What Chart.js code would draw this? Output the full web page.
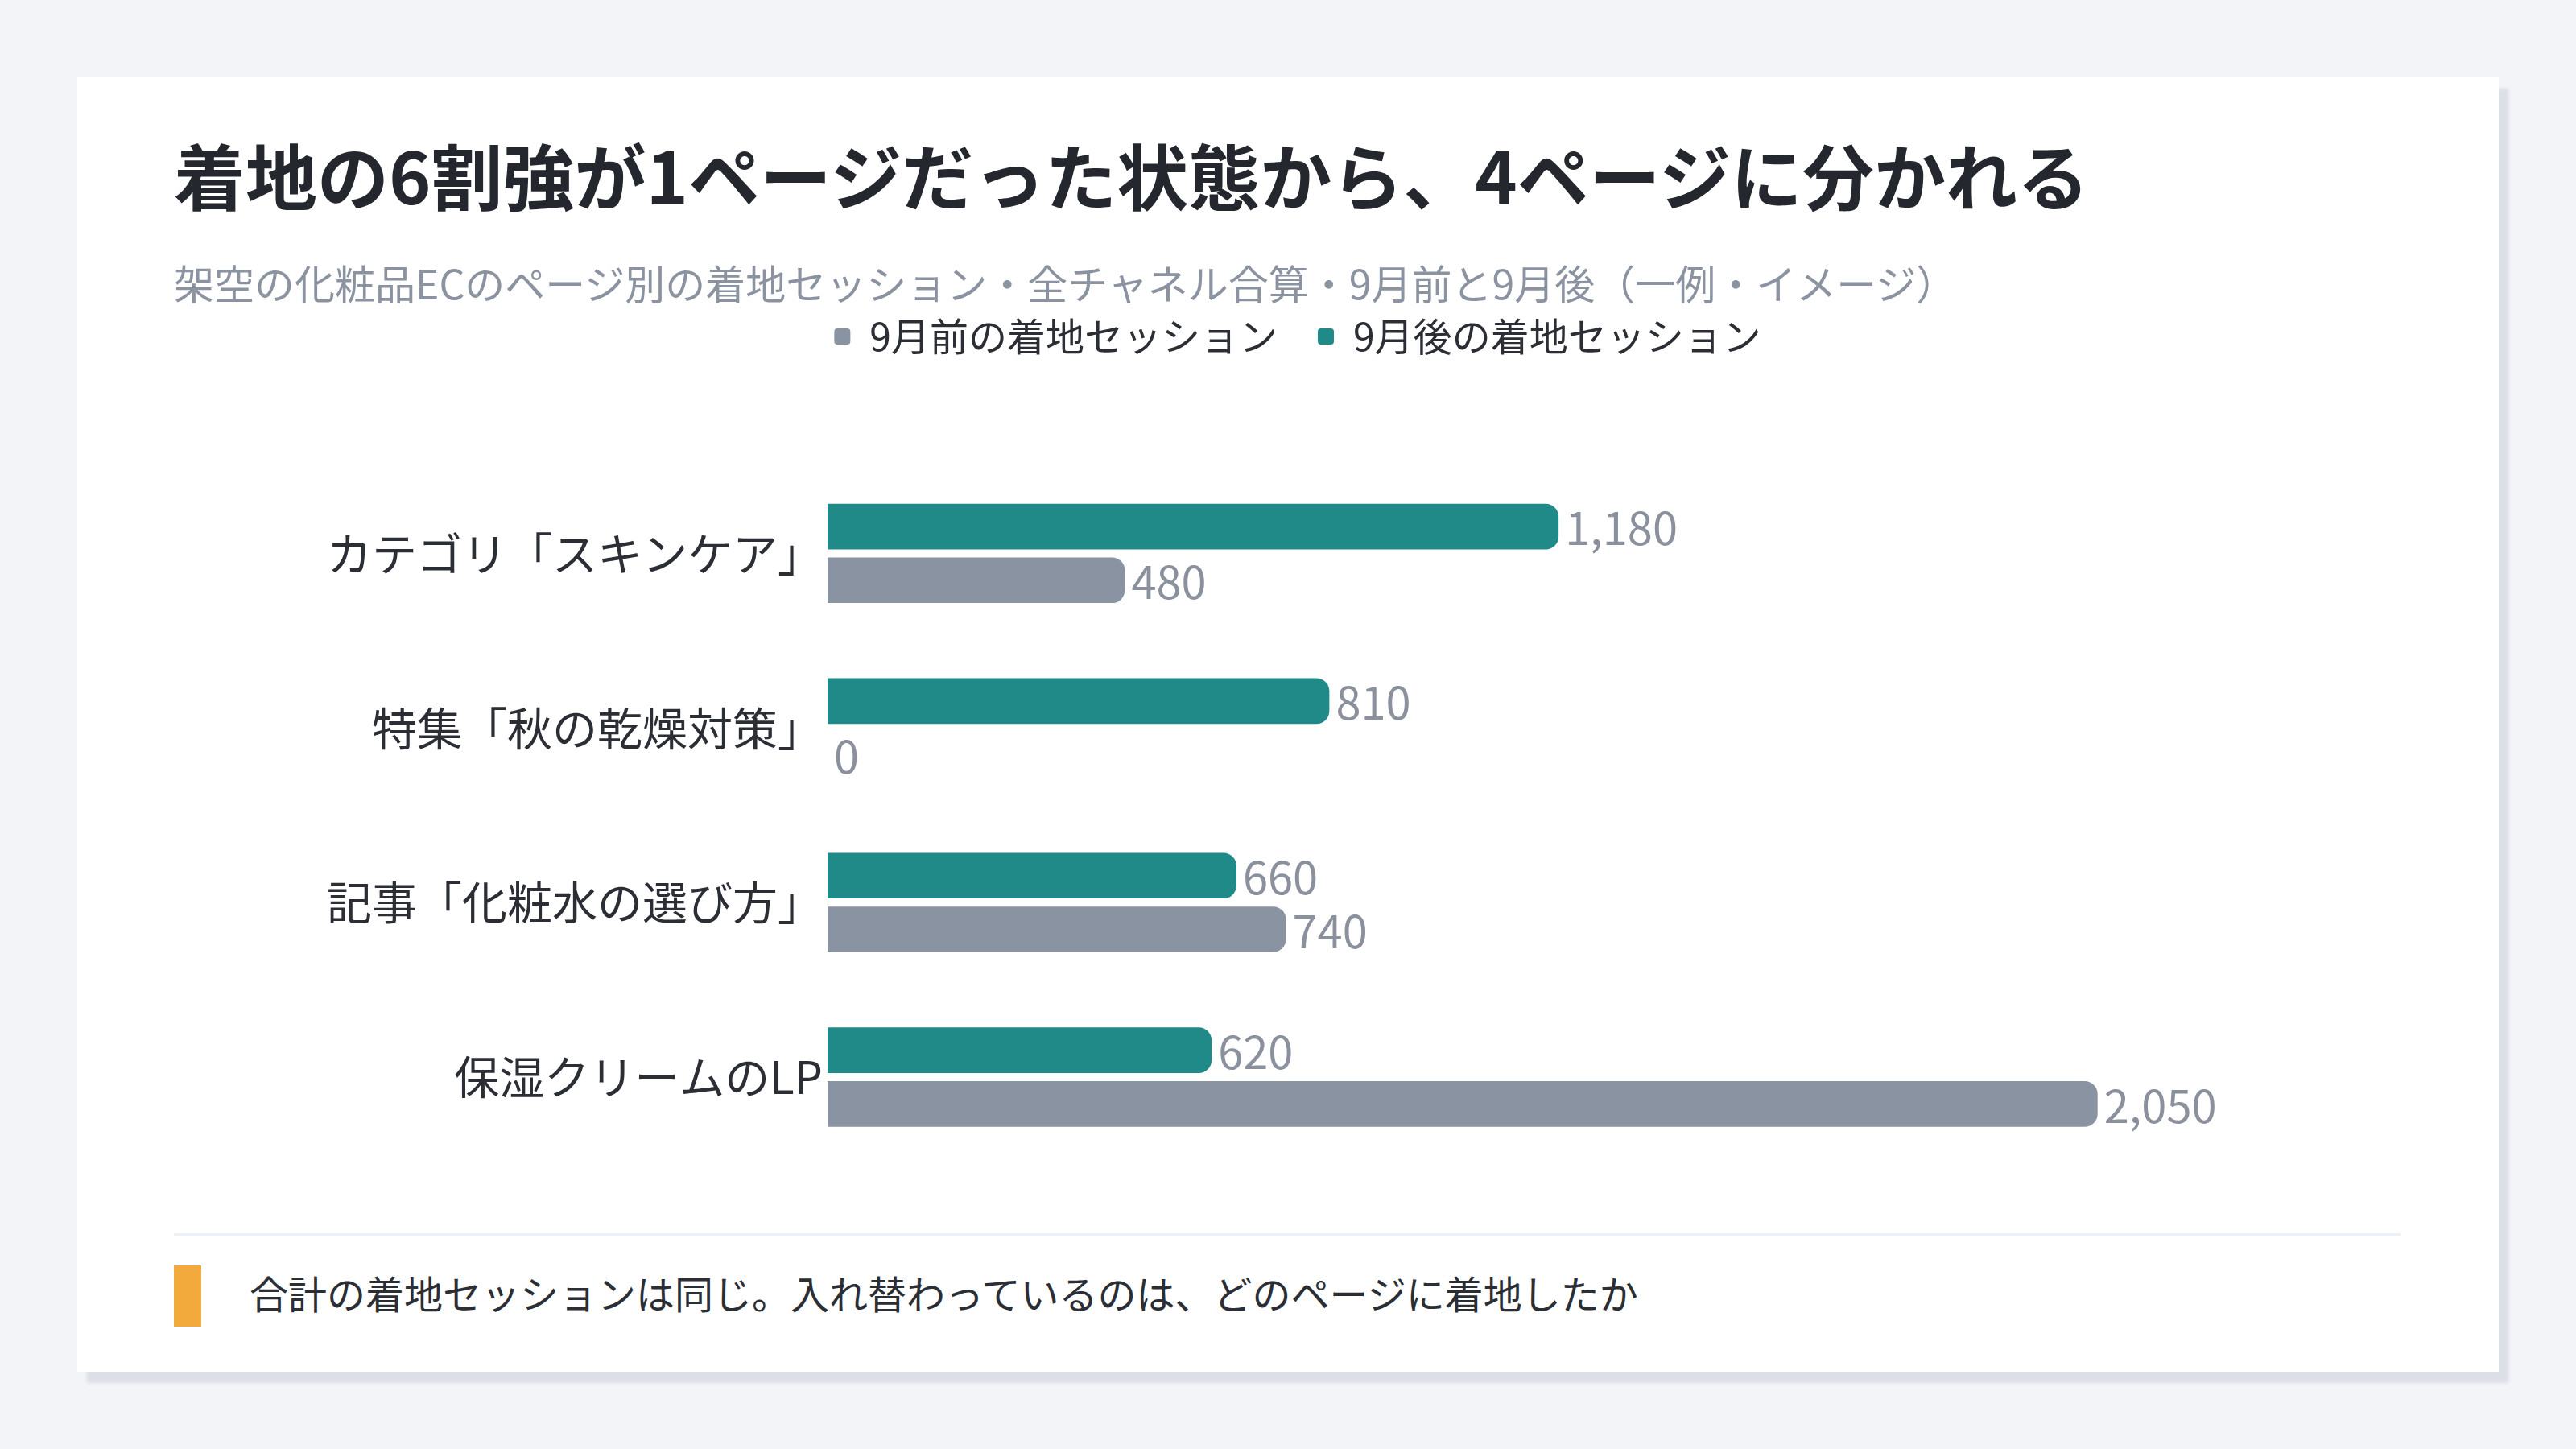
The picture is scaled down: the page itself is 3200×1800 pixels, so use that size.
<!DOCTYPE html>
<html lang="ja">
<head>
<meta charset="utf-8">
<title>着地の6割強が1ページだった状態から、4ページに分かれる</title>
<script src="https://cdn.jsdelivr.net/npm/chart.js@4.4.1/dist/chart.umd.min.js"></script>
<style>
    html, body {
        margin: 0;
        padding: 0;
        width: 3200px;
        height: 1800px;
        background: #f3f4f8;
        font-family: "Noto Sans CJK JP", "Noto Sans", sans-serif;
        overflow: hidden;
    }
    .card {
        position: absolute;
        left: 96px;
        top: 96px;
        width: 3008px;
        height: 1608px;
        background: #ffffff;
        box-shadow: 12px 14px 4px rgba(40, 52, 90, 0.11);
    }
    .title {
        position: absolute;
        left: 120px;
        top: 68px;
        margin: 0;
        font-size: 89px;
        font-weight: 700;
        line-height: 104px;
        color: #24272e;
        white-space: nowrap;
    }
    .subtitle {
        position: absolute;
        left: 120px;
        top: 225px;
        margin: 0;
        font-size: 50px;
        line-height: 58px;
        color: #8c93a0;
        white-space: nowrap;
    }
    .chart-box {
        position: absolute;
        left: 120px;
        top: 248px;
        width: 2768px;
        height: 1142px;
    }
    .divider {
        position: absolute;
        left: 120px;
        top: 1436px;
        width: 2766px;
        height: 4px;
        background: #edf0f4;
    }
    .note-mark {
        position: absolute;
        left: 120px;
        top: 1476px;
        width: 34px;
        height: 76px;
        background: #f2aa3c;
    }
    .note {
        position: absolute;
        left: 214px;
        top: 1480px;
        margin: 0;
        font-size: 48px;
        line-height: 58px;
        color: #2b2e35;
        white-space: nowrap;
    }
</style>
</head>
<body>
<div class="card">
    <h1 class="title">着地の6割強が1ページだった状態から、4ページに分かれる</h1>
    <p class="subtitle">架空の化粧品ECのページ別の着地セッション・全チャネル合算・9月前と9月後（一例・イメージ）</p>
    <div class="chart-box"><canvas id="landingChart"></canvas></div>
    <div class="divider"></div>
    <div class="note-mark"></div>
    <p class="note">合計の着地セッションは同じ。入れ替わっているのは、どのページに着地したか</p>
</div>

<script>
// --- Data ---
const pages = ['カテゴリ「スキンケア」', '特集「秋の乾燥対策」', '記事「化粧水の選び方」', '保湿クリームのLP'];
const afterLabel = '9月後の着地セッション';
const beforeLabel = '9月前の着地セッション';
const afterSessions = [1180, 810, 660, 620];
const beforeSessions = [480, 0, 740, 2050];
const axisMax = 2500;

const TEAL = '#1f8a87';
const GRAY = '#8a93a1';
const FONT = '"Noto Sans CJK JP", "Noto Sans", sans-serif';

// value labels at the end of each bar
const valueLabels = {
    id: 'valueLabels',
    afterDatasetsDraw(chart) {
        const ctx = chart.ctx;
        ctx.save();
        ctx.font = `56px ${FONT}`;
        ctx.fillStyle = '#8a909c';
        ctx.textAlign = 'left';
        ctx.textBaseline = 'middle';
        chart.data.datasets.forEach((ds, i) => {
            const meta = chart.getDatasetMeta(i);
            meta.data.forEach((bar, j) => {
                ctx.fillText(ds.data[j].toLocaleString('en-US'), bar.x + 8, bar.y + 2);
            });
        });
        ctx.restore();
    }
};

// extra room under the legend
const legendGap = {
    id: 'legendGap',
    beforeInit(chart) {
        const origFit = chart.legend.fit;
        chart.legend.fit = function () {
            origFit.bind(chart.legend)();
            this.height += 127;
        };
    }
};

new Chart(document.getElementById('landingChart'), {
    type: 'bar',
    data: {
        labels: pages,
        datasets: [
            {
                label: afterLabel,
                data: afterSessions,
                backgroundColor: TEAL,
                borderRadius: 16,
                categoryPercentage: 0.615,
                barPercentage: 0.85
            },
            {
                label: beforeLabel,
                data: beforeSessions,
                backgroundColor: GRAY,
                borderRadius: 16,
                categoryPercentage: 0.615,
                barPercentage: 0.85
            }
        ]
    },
    options: {
        indexAxis: 'y',
        responsive: true,
        maintainAspectRatio: false,
        animation: false,
        devicePixelRatio: 1,
        layout: { padding: { left: 56, right: 32, top: 0, bottom: 20 } },
        plugins: {
            legend: {
                position: 'top',
                reverse: true,
                labels: {
                    boxWidth: 20,
                    boxHeight: 20,
                    useBorderRadius: true,
                    borderRadius: 4,
                    padding: 50,
                    color: '#2b2e35',
                    font: { size: 48, family: FONT }
                }
            },
            tooltip: { enabled: false }
        },
        scales: {
            x: {
                display: false,
                min: 0,
                max: axisMax
            },
            y: {
                grid: { display: false, drawTicks: false },
                border: { display: false },
                ticks: {
                    padding: 6,
                    color: '#2b2e35',
                    font: { size: 56, family: FONT }
                },
                afterFit(scale) { scale.width = 756; }
            }
        }
    },
    plugins: [valueLabels, legendGap]
});
</script>
</body>
</html>
